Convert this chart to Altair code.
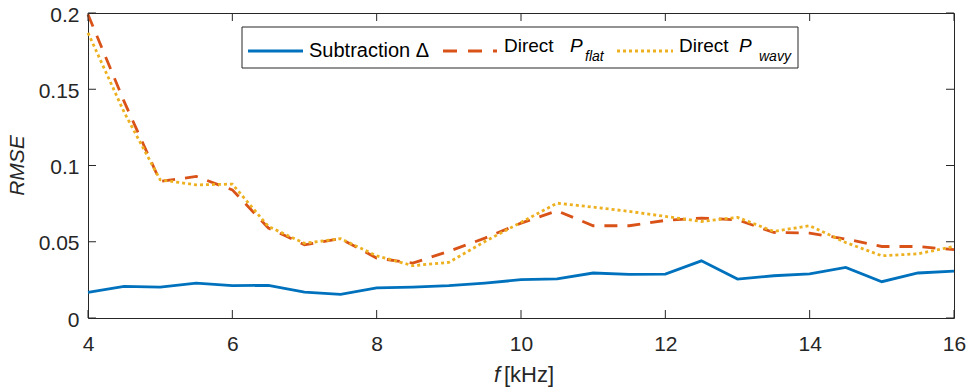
import altair as alt
import pandas as pd

# ---- data ----
freq = [4, 4.5, 5, 5.5, 6, 6.5, 7, 7.5, 8, 8.5, 9, 9.5, 10, 10.5, 11, 11.5,
        12, 12.5, 13, 13.5, 14, 14.5, 15, 15.5, 16]
subtraction = [0.0168, 0.0207, 0.0203, 0.0229, 0.0212, 0.0214, 0.0170, 0.0155,
               0.0197, 0.0203, 0.0212, 0.0229, 0.0251, 0.0256, 0.0295, 0.0286,
               0.0288, 0.0375, 0.0255, 0.0277, 0.0290, 0.0332, 0.0238, 0.0295, 0.0308]
direct_flat = [0.199, 0.142, 0.0895, 0.0928, 0.0840, 0.0590, 0.0480, 0.0520,
               0.0393, 0.0360, 0.0437, 0.0524, 0.0622, 0.0703, 0.0605, 0.0605,
               0.0640, 0.0655, 0.0644, 0.0561, 0.0557, 0.0518, 0.0469, 0.0469, 0.0448]
direct_wavy = [0.187, 0.135, 0.0906, 0.0873, 0.0878, 0.0600, 0.0490, 0.0520,
               0.0408, 0.0343, 0.0365, 0.0502, 0.0627, 0.0753, 0.0727, 0.0699,
               0.0666, 0.0633, 0.0660, 0.0568, 0.0605, 0.0495, 0.0408, 0.0421, 0.0469]
x_ticks = [4, 6, 8, 10, 12, 14, 16]
y_ticks = [0, 0.05, 0.1, 0.15, 0.2]

W, H = 866, 305
FONT = "Liberation Sans"
AX = "#262626"
BLUE, ORANGE, YELLOW = "#0072BD", "#D95319", "#EDB120"

df = pd.DataFrame({"f": freq, "sub": subtraction, "flat": direct_flat, "wavy": direct_wavy})
xt = pd.DataFrame({"t": x_ticks})
yt = pd.DataFrame({"t": y_ticks})

xs = alt.Scale(domain=[4, 16], nice=False, zero=False)
ys = alt.Scale(domain=[0, 0.2], nice=False)
xaxis = alt.Axis(values=x_ticks, tickSize=0, domain=False, grid=False, labelPadding=15,
                 labelFont=FONT, labelFontSize=21, labelColor=AX, title=None,
                 labelFlush=False, labelOverlap=False, labelExpr="datum.value")
yaxis = alt.Axis(values=y_ticks, tickSize=0, domain=False, grid=False, labelPadding=9,
                 labelFont=FONT, labelFontSize=21, labelColor=AX, title=None, labelOffset=2,
                 labelFlush=False, labelOverlap=False,
                 labelExpr="datum.value == 0 ? '0' : format(datum.value, '.2~f')")

base = alt.Chart(df)
sw = 2.8
l_sub = base.mark_line(color=BLUE, strokeWidth=sw).encode(
    x=alt.X("f:Q", scale=xs, axis=xaxis), y=alt.Y("sub:Q", scale=ys, axis=yaxis))
l_flat = base.mark_line(color=ORANGE, strokeWidth=sw, strokeDash=[13, 10]).encode(
    x=alt.X("f:Q", scale=xs), y=alt.Y("flat:Q", scale=ys))
l_wavy = base.mark_line(color=YELLOW, strokeWidth=sw, strokeDash=[3, 3]).encode(
    x=alt.X("f:Q", scale=xs), y=alt.Y("wavy:Q", scale=ys))

# inward ticks on all four sides
tk = dict(color=AX, strokeWidth=1)
t_bot = alt.Chart(xt).mark_rule(**tk).encode(x=alt.X("t:Q", scale=xs), y=alt.value(H), y2=alt.value(H - 8))
t_top = alt.Chart(xt).mark_rule(**tk).encode(x=alt.X("t:Q", scale=xs), y=alt.value(0), y2=alt.value(8))
t_left = alt.Chart(yt).mark_rule(**tk).encode(y=alt.Y("t:Q", scale=ys), x=alt.value(0), x2=alt.value(8))
t_right = alt.Chart(yt).mark_rule(**tk).encode(y=alt.Y("t:Q", scale=ys), x=alt.value(W), x2=alt.value(W - 8))

one = alt.Data(values=[{"a": 1}])
OX, OY = 88, 13  # plot origin in page pixels (for guide placement)


def txt(s, px, py, size=19, style="normal", align="left", color="#000", angle=0, baseline="alphabetic"):
    kw = dict(text=s, font=FONT, fontSize=size, fontStyle=style, align=align,
              color=color, baseline=baseline)
    if angle:
        kw["angle"] = angle
    return alt.Chart(one).mark_text(**kw).encode(x=alt.value(px - OX), y=alt.value(py - OY))


# axis titles
y_title = txt("RMSE", 18, OY + H / 2, size=21, style="italic", align="center",
              color=AX, angle=270, baseline="middle")
x_f = txt("f", 500, 382, size=22, style="italic", align="right", color=AX)
x_unit = txt("[kHz]", 504, 382, size=22, color=AX)

# legend
leg_box = alt.Chart(one).mark_rect(fill="white", stroke=AX, strokeWidth=1).encode(
    x=alt.value(242 - OX), x2=alt.value(798 - OX), y=alt.value(27 - OY), y2=alt.value(68 - OY))
LY = 51 - OY
lg1 = alt.Chart(one).mark_rule(color=BLUE, strokeWidth=sw).encode(
    x=alt.value(248 - OX), x2=alt.value(303 - OX), y=alt.value(LY))
lg2 = alt.Chart(one).mark_rule(color=ORANGE, strokeWidth=sw, strokeDash=[14, 11]).encode(
    x=alt.value(443 - OX), x2=alt.value(497 - OX), y=alt.value(LY))
lg3 = alt.Chart(one).mark_rule(color=YELLOW, strokeWidth=sw, strokeDash=[3, 3]).encode(
    x=alt.value(617 - OX), x2=alt.value(673 - OX), y=alt.value(LY))
t1 = txt("Subtraction Δ", 309, 57, size=20)
t2 = txt("Direct", 504, 52)
t2p = txt("P", 570, 52, style="italic")
t2s = txt("flat", 585, 61, size=14, style="italic")
t3 = txt("Direct", 679, 52)
t3p = txt("P", 739, 52, style="italic")
t3s = txt("wavy", 759, 61, size=14, style="italic")

chart = alt.layer(
    l_sub, l_flat, l_wavy, t_bot, t_top, t_left, t_right,
    leg_box, lg1, lg2, lg3, t1, t2, t2p, t2s, t3, t3p, t3s,
    y_title, x_f, x_unit,
).properties(
    width=W, height=H,
    autosize=alt.AutoSizeParams(type="none"),
    padding={"left": OX, "top": OY, "right": 970 - OX - W, "bottom": 388 - OY - H},
    background="white",
).configure_view(stroke=AX, strokeWidth=1)

chart.save("out.html", embed_options={"renderer": "svg", "actions": False})
